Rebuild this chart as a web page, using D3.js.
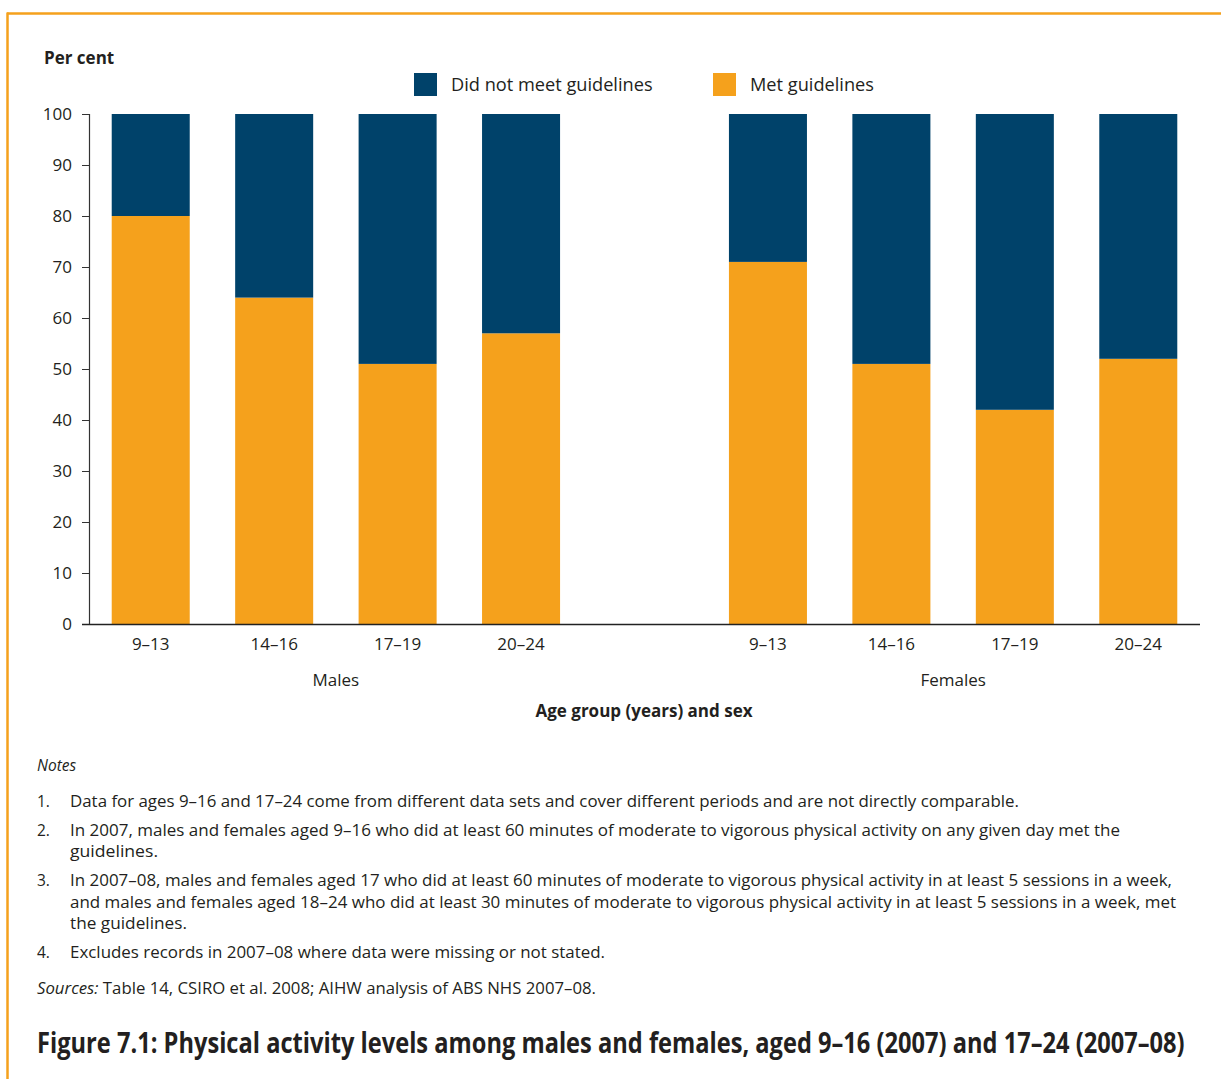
<!DOCTYPE html>
<html>
<head>
<meta charset="utf-8">
<script src="https://cdn.jsdelivr.net/npm/d3@7"></script>
<style>
  html, body { margin: 0; padding: 0; background: #fff; }
  svg { display: block; }
  text { fill: #231f20; font-family: "Open Sans", "Noto Sans", sans-serif; }
</style>
</head>
<body>
<svg id="chart" width="1221" height="1079"></svg>
<script>
// Data: share of young people meeting physical activity guidelines (per cent)
const sexes = ["Males", "Females"];
const ageGroups = ["9–13", "14–16", "17–19", "20–24"];
const metMales = [80, 64, 51, 57];
const metFemales = [71, 51, 42, 52];
const seriesNames = ["Did not meet guidelines", "Met guidelines"];
const yTicks = [0, 10, 20, 30, 40, 50, 60, 70, 80, 90, 100];

const notes = [
  ["1.", ["Data for ages 9–16 and 17–24 come from different data sets and cover different periods and are not directly comparable."]],
  ["2.", ["In 2007, males and females aged 9–16 who did at least 60 minutes of moderate to vigorous physical activity on any given day met the",
          "guidelines."]],
  ["3.", ["In 2007–08, males and females aged 17 who did at least 60 minutes of moderate to vigorous physical activity in at least 5 sessions in a week,",
          "and males and females aged 18–24 who did at least 30 minutes of moderate to vigorous physical activity in at least 5 sessions in a week, met",
          "the guidelines."]],
  ["4.", ["Excludes records in 2007–08 where data were missing or not stated."]]
];

const colors = { notMet: "#00426a", met: "#f5a11c", frame: "#f5a11c" };

const svg = d3.select("#chart");

// Orange frame (top and left edges)
svg.append("line").attr("x1", 7).attr("x2", 1221).attr("y1", 13.5).attr("y2", 13.5)
  .attr("stroke", colors.frame).attr("stroke-width", 2.5);
svg.append("line").attr("x1", 7.5).attr("x2", 7.5).attr("y1", 12.5).attr("y2", 1079)
  .attr("stroke", colors.frame).attr("stroke-width", 2.5);

// Rows: males, an empty spacer slot, females
const rows = [];
ageGroups.forEach((a, i) => rows.push({ key: "M|" + a, sex: "Males", age: a, met: metMales[i] }));
rows.push({ key: "gap", spacer: true });
ageGroups.forEach((a, i) => rows.push({ key: "F|" + a, sex: "Females", age: a, met: metFemales[i] }));
const bars = rows.filter(r => !r.spacer);

const x = d3.scaleBand()
  .domain(rows.map(r => r.key))
  .range([89, 1200])
  .paddingInner(0.368)
  .paddingOuter(0.184);

const y = d3.scaleLinear().domain([0, 100]).range([624, 114]);

// Stacked bars
const g = svg.append("g");
g.selectAll("rect.met").data(bars).join("rect")
  .attr("class", "met")
  .attr("x", d => x(d.key)).attr("width", x.bandwidth())
  .attr("y", d => y(d.met)).attr("height", d => y(0) - y(d.met))
  .attr("fill", colors.met);
g.selectAll("rect.notmet").data(bars).join("rect")
  .attr("class", "notmet")
  .attr("x", d => x(d.key)).attr("width", x.bandwidth())
  .attr("y", d => y(100)).attr("height", d => y(d.met) - y(100))
  .attr("fill", colors.notMet);

// Y axis
const yAxis = svg.append("g").attr("transform", "translate(89,0)")
  .call(d3.axisLeft(y).tickValues(yTicks).tickSize(7).tickPadding(10));
yAxis.select(".domain").attr("stroke", "#333").attr("stroke-width", 1.2);
yAxis.selectAll(".tick line").attr("stroke", "#333");
yAxis.selectAll(".tick text").attr("font-size", 17).attr("fill", "#231f20")
  .attr("font-family", "Open Sans, sans-serif");

// X axis
const xAxis = svg.append("g").attr("transform", "translate(0,624)")
  .call(d3.axisBottom(x).tickSize(0).tickPadding(14)
    .tickFormat(k => k === "gap" ? "" : k.split("|")[1]));
xAxis.select(".domain").remove();
svg.append("line").attr("x1", 82).attr("x2", 1200).attr("y1", 624.5).attr("y2", 624.5)
  .attr("stroke", "#222").attr("stroke-width", 1.5);
xAxis.selectAll(".tick text").attr("font-size", 17).attr("fill", "#231f20")
  .attr("font-family", "Open Sans, sans-serif");

// Sex group labels
sexes.forEach(s => {
  const ks = bars.filter(b => b.sex === s).map(b => x(b.key) + x.bandwidth() / 2);
  svg.append("text").attr("x", (d3.min(ks) + d3.max(ks)) / 2).attr("y", 686)
    .attr("text-anchor", "middle").attr("font-size", 17).text(s);
});

// Axis titles
svg.append("text").attr("x", 644).attr("y", 717).attr("text-anchor", "middle")
  .attr("font-size", 17).attr("font-weight", "bold").text("Age group (years) and sex");
svg.append("text").attr("x", 44).attr("y", 64)
  .attr("font-size", 17).attr("font-weight", "bold").text("Per cent");

// Legend
const legend = [
  { name: seriesNames[0], color: colors.notMet, x: 414 },
  { name: seriesNames[1], color: colors.met, x: 713 }
];
legend.forEach(l => {
  svg.append("rect").attr("x", l.x).attr("y", 73).attr("width", 23).attr("height", 23).attr("fill", l.color);
  svg.append("text").attr("x", l.x + 37).attr("y", 91).attr("font-size", 18.2).text(l.name);
});

// Notes
svg.append("text").attr("x", 37).attr("y", 771).attr("font-size", 15.5)
  .attr("font-style", "italic").text("Notes");
const lineYs = [[807], [836, 857], [886, 908, 929], [958]];
const lineWidths = [[949], [1050, 88], [1102, 1106, 117], [535]];
notes.forEach(([num, lines], i) => {
  svg.append("text").attr("x", 37).attr("y", lineYs[i][0]).attr("font-size", 15.5).text(num);
  lines.forEach((ln, j) => {
    svg.append("text").attr("x", 70).attr("y", lineYs[i][j]).attr("font-size", 15.5)
      .attr("textLength", lineWidths[i][j]).attr("lengthAdjust", "spacingAndGlyphs").text(ln);
  });
});
const src = svg.append("text").attr("x", 37).attr("y", 994).attr("font-size", 15.5)
  .attr("textLength", 559).attr("lengthAdjust", "spacingAndGlyphs");
src.append("tspan").attr("font-style", "italic").text("Sources:");
src.append("tspan").text(" Table 14, CSIRO et al. 2008; AIHW analysis of ABS NHS 2007–08.");

// Figure title, condensed horizontally to fit the frame width
const title = svg.append("text").attr("x", 0).attr("y", 0)
  .attr("font-family", "Liberation Sans Narrow, Arial Narrow, sans-serif")
  .attr("font-weight", "bold").attr("font-size", 28)
  .text("Figure 7.1: Physical activity levels among males and females, aged 9–16 (2007) and 17–24 (2007–08)");
const natural = title.node().getComputedTextLength();
title.attr("transform", `translate(37,1053) scale(${1148 / natural},1)`);
</script>
</body>
</html>
